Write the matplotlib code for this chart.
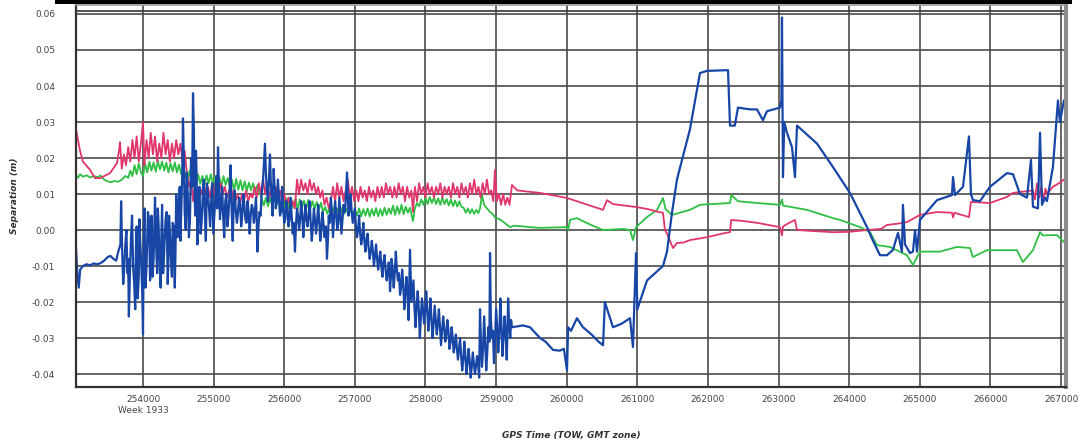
import matplotlib
matplotlib.use('Agg')
import matplotlib.pyplot as plt
from matplotlib.patches import Rectangle

# GPS time of week (s) and separation (m)
blue = [
    (253051, -0.005), (253070, -0.012), (253090, -0.016), (253110, -0.011), (253150, -0.010), (253200, -0.0095),
    (253250, -0.0098), (253300, -0.0093), (253350, -0.0095), (253400, -0.0092), (253450, -0.0085), (253500, -0.0075),
    (253540, -0.0072), (253580, -0.0080), (253620, -0.0085), (253650, -0.006), (253680, -0.004),
    (253690, 0.008), (253720, -0.015), (253750, -0.004), (253780, -0.012), (253800, -0.024), (253830, -0.002),
    (253860, -0.010), (253890, -0.022), (253910, 0.001), (253940, -0.013), (253960, -0.003), (253990, -0.018),
    (254000, -0.029), (254020, 0.006), (254050, -0.010), (254070, 0.005), (254100, -0.014), (254120, 0.004),
    (254150, -0.008), (254170, 0.009), (254200, -0.012), (254220, 0.002), (254250, -0.016), (254270, 0.007),
    (254300, -0.006), (254320, 0.003), (254350, -0.015), (254370, 0.004), (254400, -0.010), (254420, 0.002),
    (254450, -0.016), (254470, 0.010), (254490, -0.002), (254520, 0.012), (254566, 0.031), (254590, 0.005),
    (254620, 0.016), (254650, -0.002), (254680, 0.020), (254708, 0.038), (254730, 0.010), (254750, 0.022),
    (254770, -0.004), (254800, 0.012), (254830, 0.002), (254860, 0.014), (254890, -0.003), (254920, 0.010),
    (254950, 0.001), (254980, 0.013), (255010, 0.004), (255040, 0.015), (255062, 0.023), (255090, 0.003),
    (255120, 0.012), (255150, -0.002), (255180, 0.010), (255210, 0.004), (255240, 0.018), (255270, -0.003),
    (255300, 0.011), (255330, 0.002), (255360, 0.009), (255390, 0.001), (255420, 0.010), (255450, 0.003),
    (255480, 0.008), (255510, -0.001), (255540, 0.007), (255570, 0.002), (255600, 0.009), (255620, -0.006),
    (255650, 0.005), (255680, 0.010), (255727, 0.024), (255750, 0.012), (255798, 0.021), (255820, 0.010),
    (255850, 0.017), (255880, 0.006), (255910, 0.014), (255940, 0.004), (255970, 0.012), (256000, 0.002),
    (256030, 0.008), (256060, 0.001), (256090, 0.009), (256120, -0.001), (256152, -0.006), (256180, 0.006),
    (256210, 0.000), (256240, 0.008), (256270, -0.002), (256300, 0.007), (256330, 0.001), (256360, 0.008),
    (256390, -0.003), (256420, 0.006), (256450, -0.001), (256480, 0.007), (256510, -0.003), (256540, 0.005),
    (256570, -0.002), (256605, -0.008), (256630, 0.004), (256660, 0.009), (256690, -0.002), (256720, 0.008),
    (256750, 0.000), (256780, 0.009), (256810, -0.001), (256840, 0.007), (256889, 0.016), (256910, 0.004),
    (256940, 0.010), (256970, 0.002), (257000, 0.006), (257030, -0.002), (257060, 0.004), (257090, -0.004),
    (257120, 0.002), (257150, -0.006), (257180, -0.001), (257210, -0.008), (257240, -0.003), (257270, -0.010),
    (257300, -0.004), (257330, -0.011), (257360, -0.006), (257390, -0.013), (257420, -0.007), (257450, -0.014),
    (257480, -0.009), (257498, -0.017), (257520, -0.008), (257550, -0.016), (257580, -0.006), (257610, -0.014),
    (257640, -0.018), (257670, -0.011), (257700, -0.022), (257730, -0.013), (257760, -0.025), (257781, -0.0055),
    (257800, -0.020), (257830, -0.014), (257860, -0.027), (257890, -0.017), (257920, -0.030), (257950, -0.019),
    (257980, -0.026), (258010, -0.017), (258040, -0.028), (258070, -0.019), (258100, -0.030), (258130, -0.021),
    (258160, -0.029), (258190, -0.022), (258220, -0.032), (258250, -0.024), (258280, -0.031), (258310, -0.025),
    (258340, -0.033), (258370, -0.027), (258400, -0.034), (258430, -0.029), (258460, -0.036), (258490, -0.030),
    (258520, -0.039), (258550, -0.031), (258580, -0.040), (258610, -0.033), (258640, -0.041), (258670, -0.034),
    (258700, -0.040), (258730, -0.035), (258760, -0.041), (258772, -0.022), (258800, -0.038), (258830, -0.024),
    (258860, -0.039), (258890, -0.027), (258914, -0.0064), (258940, -0.030), (258970, -0.037), (259000, -0.022),
    (259030, -0.034), (259060, -0.019), (259090, -0.035), (259120, -0.024), (259150, -0.036), (259170, -0.019),
    (259200, -0.030), (259225, -0.027), (259381, -0.0265), (259480, -0.027), (259622, -0.030), (259700, -0.031),
    (259806, -0.0333), (259900, -0.0335), (259960, -0.033), (260004, -0.039), (260020, -0.027), (260060, -0.028),
    (260145, -0.0245), (260230, -0.027), (260350, -0.029), (260450, -0.031), (260514, -0.032), (260540, -0.020),
    (260655, -0.027), (260780, -0.026), (260896, -0.0245), (260938, -0.0325), (260981, -0.0064), (261000, -0.022),
    (261137, -0.014), (261250, -0.012), (261363, -0.010), (261420, -0.006), (261490, 0.0047), (261561, 0.014),
    (261745, 0.028), (261887, 0.0436), (261986, 0.0442), (262284, 0.0444), (262312, 0.029), (262380, 0.029),
    (262425, 0.034), (262600, 0.0335), (262694, 0.0335), (262779, 0.0305), (262836, 0.033), (263019, 0.034),
    (263040, 0.036), (263048, 0.059), (263062, 0.0147), (263080, 0.030), (263119, 0.027), (263190, 0.023),
    (263232, 0.0147), (263261, 0.029), (263544, 0.024), (263770, 0.0175), (263870, 0.0145), (264011, 0.0103),
    (264252, 0.0008), (264337, -0.003), (264436, -0.007), (264535, -0.007), (264620, -0.0055), (264691, -0.0008),
    (264747, -0.006), (264761, 0.007), (264790, -0.004), (264861, -0.0064), (264903, -0.006), (264932, 0.0),
    (264960, -0.006), (265002, 0.0028), (265243, 0.0083), (265455, 0.0097), (265470, 0.0147), (265498, 0.0097),
    (265611, 0.012), (265696, 0.026), (265724, 0.010), (265752, 0.0083), (265851, 0.008), (265993, 0.012),
    (266234, 0.0158), (266319, 0.0155), (266418, 0.010), (266517, 0.009), (266574, 0.0195), (266602, 0.0065),
    (266673, 0.006), (266702, 0.027), (266730, 0.007), (266772, 0.009), (266800, 0.008), (266885, 0.0175),
    (266956, 0.036), (266984, 0.030), (267041, 0.036), (267070, 0.033),
    # extra samples inside the noisy stretch
    (253705, -0.006), (253735, -0.010), (253765, 0.000), (253790, -0.008), (253815, -0.012), (253845, 0.004),
    (253875, -0.015), (253900, -0.005), (253925, -0.019), (253950, 0.003), (253975, -0.009), (254010, -0.004),
    (254035, -0.016), (254060, -0.003), (254085, 0.003), (254110, -0.009), (254135, -0.013), (254160, 0.001),
    (254185, -0.004), (254210, 0.006), (254235, -0.009), (254260, -0.002), (254285, -0.012), (254310, -0.001),
    (254335, 0.005), (254360, -0.008), (254385, -0.003), (254410, -0.013), (254435, 0.001), (254460, -0.006),
    (254500, 0.006), (254530, -0.003), (254555, 0.015), (254580, 0.018), (254605, 0.000), (254635, 0.009),
    (254665, 0.003), (254695, 0.012), (254720, 0.028), (254740, 0.004), (254760, 0.015), (254785, 0.006),
    (254815, -0.001), (254845, 0.009), (254875, 0.005), (254905, 0.013), (254935, 0.006), (254965, 0.008),
    (254995, -0.001), (255025, 0.009), (255050, 0.006), (255075, 0.012), (255105, 0.007), (255135, 0.004),
    (255165, 0.008), (255195, 0.001), (255225, 0.010), (255255, 0.006), (255285, 0.008), (255315, 0.005),
    (255345, 0.005), (255375, 0.007), (255405, 0.004), (255435, 0.007), (255465, 0.002), (255495, 0.005),
    (255525, 0.004), (255555, 0.006), (255585, 0.005), (255610, 0.003), (255635, 0.001), (255665, 0.004),
    (255700, 0.014), (255740, 0.016), (255770, 0.008), (255810, 0.013), (255835, 0.004), (255865, 0.011),
    (255895, 0.008), (255925, 0.009), (255955, 0.005), (255985, 0.006), (256015, 0.003), (256045, 0.006),
    (256075, 0.003), (256105, 0.004), (256135, 0.002), (256165, 0.001), (256195, 0.004), (256225, 0.003),
    (256255, 0.004), (256285, 0.003), (256315, 0.003), (256345, 0.004), (256375, 0.002), (256405, 0.001),
    (256435, 0.003), (256465, 0.002), (256495, 0.003), (256525, 0.000), (256555, 0.002), (256590, 0.001),
    (256620, -0.002), (256645, 0.002), (256675, 0.005), (256705, 0.003), (256735, 0.005), (256765, 0.002),
    (256795, 0.004), (256825, 0.003), (256860, 0.005), (256875, 0.010), (256925, 0.006), (256955, 0.005),
    (256985, 0.004), (257015, 0.001), (257045, 0.000), (257075, -0.001), (257105, -0.002), (257135, -0.003),
    (257165, -0.003), (257195, -0.005), (257225, -0.006), (257255, -0.006), (257285, -0.007), (257315, -0.008),
    (257345, -0.008), (257375, -0.010), (257405, -0.009), (257435, -0.011), (257465, -0.012), (257490, -0.012),
    (257510, -0.013), (257535, -0.011), (257565, -0.012), (257595, -0.011), (257625, -0.012), (257655, -0.016),
    (257685, -0.015), (257715, -0.018), (257745, -0.017), (257770, -0.015), (257815, -0.017), (257845, -0.022),
    (257875, -0.021), (257905, -0.022), (257935, -0.024), (257965, -0.022), (257995, -0.023), (258025, -0.022),
    (258055, -0.024), (258085, -0.025), (258115, -0.026), (258145, -0.025), (258175, -0.026), (258205, -0.027),
    (258235, -0.028), (258265, -0.027), (258295, -0.029), (258325, -0.028), (258355, -0.031), (258385, -0.030),
    (258415, -0.032), (258445, -0.033), (258475, -0.033), (258505, -0.035), (258535, -0.036), (258565, -0.035),
    (258595, -0.037), (258625, -0.036), (258655, -0.038), (258685, -0.037), (258715, -0.038), (258745, -0.037),
    (258785, -0.031), (258815, -0.033), (258845, -0.031), (258875, -0.034), (258905, -0.031), (258925, -0.024),
    (258955, -0.028), (258985, -0.030), (259015, -0.027), (259045, -0.029), (259075, -0.026), (259105, -0.030),
    (259135, -0.028), (259160, -0.029), (259185, -0.026), (259212, -0.025),
]

red = [
    (253051, 0.028), (253070, 0.026), (253108, 0.022), (253150, 0.019), (253250, 0.0167), (253320, 0.0144),
    (253391, 0.0144), (253533, 0.0158), (253632, 0.0186), (253660, 0.022), (253674, 0.0244), (253700, 0.017),
    (253730, 0.021), (253760, 0.018), (253790, 0.023), (253820, 0.019), (253850, 0.025), (253880, 0.020),
    (253910, 0.026), (253940, 0.019), (253970, 0.024), (254000, 0.030), (254020, 0.018), (254050, 0.025),
    (254080, 0.020), (254110, 0.027), (254140, 0.021), (254170, 0.026), (254200, 0.019), (254230, 0.024),
    (254260, 0.020), (254290, 0.027), (254320, 0.021), (254350, 0.025), (254380, 0.019), (254410, 0.024),
    (254440, 0.020), (254470, 0.025), (254500, 0.021), (254530, 0.024), (254560, 0.019), (254590, 0.022),
    (254620, 0.016), (254650, 0.012), (254680, 0.014), (254710, 0.008), (254740, 0.013), (254770, 0.009),
    (254800, 0.012), (254830, 0.010), (254860, 0.013), (254890, 0.010), (254920, 0.012), (254950, 0.009),
    (254980, 0.013), (255010, 0.010), (255040, 0.012), (255070, 0.009), (255100, 0.013), (255130, 0.010),
    (255160, 0.012), (255190, 0.009), (255220, 0.011), (255250, 0.008), (255280, 0.011), (255310, 0.008),
    (255340, 0.010), (255370, 0.007), (255400, 0.010), (255430, 0.008), (255460, 0.011), (255490, 0.008),
    (255520, 0.010), (255550, 0.009), (255580, 0.012), (255610, 0.009), (255640, 0.013), (255670, 0.010),
    (255700, 0.014), (255730, 0.010), (255760, 0.013), (255790, 0.009), (255820, 0.012), (255850, 0.009),
    (255880, 0.012), (255910, 0.008), (255940, 0.011), (255970, 0.008), (256000, 0.010), (256030, 0.007),
    (256060, 0.009), (256090, 0.006), (256120, 0.008), (256150, 0.006), (256181, 0.014), (256210, 0.010),
    (256240, 0.014), (256270, 0.011), (256300, 0.013), (256330, 0.010), (256360, 0.014), (256390, 0.011),
    (256420, 0.013), (256450, 0.010), (256480, 0.012), (256510, 0.009), (256540, 0.011), (256570, 0.007),
    (256600, 0.009), (256630, 0.006), (256660, 0.008), (256690, 0.012), (256720, 0.008), (256750, 0.013),
    (256780, 0.009), (256810, 0.012), (256840, 0.008), (256870, 0.011), (256900, 0.014), (256930, 0.009),
    (256960, 0.012), (256990, 0.008), (257020, 0.011), (257050, 0.008), (257080, 0.012), (257110, 0.009),
    (257140, 0.011), (257170, 0.008), (257200, 0.012), (257230, 0.009), (257260, 0.011), (257290, 0.008),
    (257320, 0.012), (257350, 0.009), (257380, 0.012), (257410, 0.009), (257440, 0.013), (257470, 0.010),
    (257500, 0.012), (257530, 0.009), (257560, 0.012), (257590, 0.009), (257620, 0.013), (257650, 0.010),
    (257680, 0.012), (257710, 0.008), (257740, 0.012), (257770, 0.009), (257800, 0.011), (257823, 0.005),
    (257850, 0.012), (257880, 0.008), (257910, 0.013), (257940, 0.010), (257970, 0.012), (258000, 0.009),
    (258030, 0.013), (258060, 0.010), (258090, 0.012), (258120, 0.009), (258150, 0.012), (258180, 0.010),
    (258210, 0.013), (258240, 0.009), (258270, 0.012), (258300, 0.010), (258330, 0.012), (258360, 0.009),
    (258390, 0.013), (258420, 0.010), (258450, 0.012), (258480, 0.009), (258510, 0.013), (258540, 0.010),
    (258570, 0.012), (258600, 0.009), (258630, 0.013), (258660, 0.010), (258690, 0.014), (258720, 0.010),
    (258750, 0.012), (258780, 0.009), (258810, 0.013), (258840, 0.010), (258870, 0.014), (258900, 0.010),
    (258930, 0.011), (258960, 0.008), (258984, 0.0167), (259010, 0.008), (259040, 0.010), (259070, 0.007),
    (259100, 0.010), (259130, 0.007), (259160, 0.009), (259190, 0.007), (259225, 0.0125), (259300, 0.011),
    (259480, 0.0106), (259622, 0.0103), (260004, 0.0089), (260300, 0.007), (260514, 0.0056), (260570, 0.0083),
    (260655, 0.0072), (260981, 0.0064), (261150, 0.0058), (261300, 0.005), (261363, 0.0048), (261391, 0.000),
    (261420, -0.001), (261505, -0.005), (261561, -0.0036), (261650, -0.0035), (261745, -0.0028), (261986, -0.002),
    (262200, -0.001), (262312, -0.0006), (262330, 0.0028), (262500, 0.0025), (262694, 0.002), (263019, 0.0008),
    (263048, -0.0015), (263062, 0.001), (263150, 0.002), (263232, 0.0028), (263261, 0.000), (263500, -0.0003),
    (263770, -0.0006), (264000, -0.0005), (264252, 0.000), (264450, 0.0003), (264535, 0.0014), (264700, 0.0018),
    (264818, 0.0022), (265002, 0.0042), (265243, 0.005), (265455, 0.0048), (265470, 0.0035), (265490, 0.0048),
    (265696, 0.0036), (265724, 0.0078), (265993, 0.0075), (266234, 0.0092), (266319, 0.0103), (266517, 0.0108),
    (266602, 0.011), (266630, 0.0085), (266660, 0.013), (266690, 0.009), (266720, 0.012), (266750, 0.008),
    (266780, 0.0115), (266800, 0.010), (266885, 0.012), (266970, 0.013), (267041, 0.014), (267070, 0.0145),
]

green = [
    (253051, 0.0153), (253080, 0.0145), (253110, 0.0155), (253150, 0.0148), (253200, 0.0152), (253250, 0.0146),
    (253300, 0.0150), (253350, 0.0147), (253400, 0.0151), (253450, 0.0140), (253500, 0.0135), (253550, 0.0133),
    (253600, 0.0136), (253650, 0.0134), (253700, 0.0140), (253750, 0.0150), (253790, 0.0145), (253820, 0.0165),
    (253850, 0.0150), (253880, 0.0180), (253910, 0.0155), (253940, 0.0185), (253970, 0.0160), (254000, 0.0150),
    (254030, 0.0185), (254060, 0.0160), (254090, 0.0190), (254120, 0.0165), (254150, 0.0188), (254180, 0.0162),
    (254210, 0.0192), (254240, 0.0168), (254270, 0.0190), (254300, 0.0165), (254330, 0.0187), (254360, 0.0160),
    (254390, 0.0185), (254420, 0.0163), (254450, 0.0188), (254480, 0.0160), (254510, 0.0182), (254540, 0.0155),
    (254570, 0.0175), (254600, 0.0150), (254630, 0.0140), (254660, 0.0165), (254690, 0.0125), (254720, 0.0150),
    (254750, 0.0130), (254780, 0.0155), (254810, 0.0128), (254840, 0.0150), (254870, 0.0125), (254900, 0.0152),
    (254930, 0.0130), (254960, 0.0155), (254990, 0.0128), (255020, 0.0150), (255050, 0.0125), (255080, 0.0148),
    (255110, 0.0122), (255140, 0.0150), (255170, 0.0125), (255200, 0.0145), (255230, 0.0120), (255260, 0.0140),
    (255290, 0.0110), (255320, 0.0142), (255350, 0.0112), (255380, 0.0138), (255410, 0.0110), (255440, 0.0135),
    (255470, 0.0108), (255500, 0.0132), (255530, 0.0110), (255560, 0.0130), (255590, 0.0108), (255620, 0.0125),
    (255650, 0.0105), (255680, 0.0088), (255710, 0.0068), (255740, 0.0090), (255770, 0.0066), (255800, 0.0088),
    (255830, 0.0070), (255860, 0.0092), (255890, 0.0068), (255920, 0.0088), (255950, 0.0066), (255980, 0.0085),
    (256010, 0.0062), (256040, 0.0088), (256070, 0.0060), (256100, 0.0086), (256130, 0.0062), (256160, 0.0088),
    (256190, 0.0058), (256220, 0.0085), (256250, 0.0060), (256280, 0.0082), (256310, 0.0058), (256340, 0.0084),
    (256370, 0.0060), (256400, 0.0080), (256430, 0.0058), (256460, 0.0078), (256490, 0.0056), (256520, 0.0076),
    (256550, 0.0050), (256580, 0.0064), (256610, 0.0045), (256640, 0.0062), (256670, 0.0044), (256700, 0.0063),
    (256730, 0.0046), (256760, 0.0060), (256790, 0.0043), (256820, 0.0062), (256850, 0.0045), (256880, 0.0060),
    (256910, 0.0042), (256940, 0.0058), (256970, 0.0044), (257000, 0.0058), (257030, 0.0040), (257060, 0.0060),
    (257090, 0.0038), (257120, 0.0058), (257150, 0.0040), (257180, 0.0060), (257210, 0.0037), (257240, 0.0058),
    (257270, 0.0040), (257300, 0.0061), (257330, 0.0038), (257360, 0.0058), (257390, 0.0040), (257420, 0.0062),
    (257450, 0.0042), (257480, 0.0060), (257510, 0.0045), (257540, 0.0068), (257570, 0.0042), (257600, 0.0066),
    (257630, 0.0045), (257660, 0.0070), (257690, 0.0044), (257720, 0.0065), (257750, 0.0048), (257780, 0.0062),
    (257823, 0.0025), (257850, 0.0060), (257880, 0.0075), (257910, 0.0066), (257940, 0.0085), (257970, 0.0070),
    (258000, 0.0090), (258030, 0.0072), (258060, 0.0092), (258090, 0.0075), (258120, 0.0090), (258150, 0.0072),
    (258180, 0.0088), (258210, 0.0070), (258240, 0.0090), (258270, 0.0072), (258300, 0.0086), (258330, 0.0068),
    (258360, 0.0085), (258390, 0.0066), (258420, 0.0082), (258450, 0.0065), (258480, 0.0080), (258510, 0.0064),
    (258540, 0.0062), (258570, 0.0048), (258600, 0.0060), (258630, 0.0046), (258660, 0.0058), (258690, 0.0045),
    (258720, 0.0056), (258750, 0.0047), (258772, 0.0060), (258800, 0.0097), (258830, 0.0070), (258870, 0.0060),
    (258914, 0.0050), (258950, 0.0045), (258984, 0.0035), (259050, 0.0030), (259120, 0.0020), (259197, 0.0008),
    (259250, 0.0012), (259381, 0.0010), (259480, 0.0008), (259622, 0.0006), (260004, 0.0008), (260020, 0.0000),
    (260046, 0.0028), (260145, 0.0033), (260300, 0.0018), (260514, 0.0000), (260800, 0.0003), (260896, 0.0000),
    (260938, -0.0028), (260981, 0.0008), (261137, 0.0036), (261280, 0.0056), (261363, 0.0089), (261400, 0.0058),
    (261490, 0.0042), (261745, 0.0056), (261887, 0.0070), (262312, 0.0075), (262330, 0.0097), (262425, 0.0080),
    (262694, 0.0075), (263019, 0.0070), (263048, 0.0085), (263062, 0.0068), (263400, 0.0056), (263770, 0.0033),
    (263870, 0.0028), (264153, 0.0008), (264295, -0.0006), (264393, -0.0042), (264577, -0.0047), (264818, -0.0070),
    (264903, -0.0097), (265002, -0.0060), (265285, -0.0060), (265526, -0.0047), (265710, -0.0050), (265752, -0.0075),
    (265950, -0.0056), (266375, -0.0056), (266460, -0.0089), (266602, -0.0056), (266702, -0.0006), (266744, -0.0015),
    (266942, -0.0014), (267084, -0.0042),
]

x_ticks = [254000, 255000, 256000, 257000, 258000, 259000, 260000, 261000, 262000, 263000, 264000, 265000, 266000, 267000]
x_labels = ['254000\nWeek 1933'] + [str(t) for t in x_ticks[1:]]
y_ticks = [-0.04, -0.03, -0.02, -0.01, 0.00, 0.01, 0.02, 0.03, 0.04, 0.05, 0.06]

fig = plt.figure(figsize=(10.84, 4.46), dpi=100)
ax = fig.add_axes([0.0701, 0.1323, 0.9133, 0.8565])

t, v = zip(*sorted(green))
ax.plot(t, v, color='#2fbf45', lw=1.3)
t, v = zip(*sorted(red))
ax.plot(t, v, color='#e0366c', lw=1.3)
t, v = zip(*sorted(blue))
ax.plot(t, v, color='#1846a6', lw=1.6)

ax.set_xlim(253051, 267070)
ax.set_ylim(-0.0436, 0.0625)
ax.set_xticks(x_ticks)
ax.set_xticklabels(x_labels)
ax.set_yticks(y_ticks)
ax.set_yticklabels(['%.2f' % y for y in y_ticks])
ax.tick_params(length=0, labelsize=6.5, labelcolor='#444')
ax.tick_params(axis='x', pad=6)
ax.tick_params(axis='y', pad=15)
ax.grid(True, color='#4a4a4a', lw=1.2)
ax.set_axisbelow(True)

ax.spines['left'].set_color('#333')
ax.spines['left'].set_linewidth(1.6)
ax.spines['bottom'].set_color('#333')
ax.spines['bottom'].set_linewidth(1.6)
ax.spines['right'].set_color('#8c8c8c')
ax.spines['right'].set_linewidth(3)
ax.spines['top'].set_color('#9a9a9a')
ax.spines['top'].set_linewidth(1.2)
# second frame line under the top edge
ax.plot([0, 1], [0.985, 0.985], transform=ax.transAxes, color='#444', lw=1.3, clip_on=False)

ax.set_ylabel('Separation (m)', fontsize=6.5, fontstyle='italic', fontweight='bold', color='#333', labelpad=9)
ax.set_xlabel('GPS Time (TOW, GMT zone)', fontsize=6.5, fontstyle='italic', fontweight='bold', color='#333', labelpad=12)

# dark band along the top of the window
fig.add_artist(Rectangle((0.0507, 0.991), 0.938, 0.009, transform=fig.transFigure, color='black', lw=0))

fig.savefig('out.png', dpi=100)
